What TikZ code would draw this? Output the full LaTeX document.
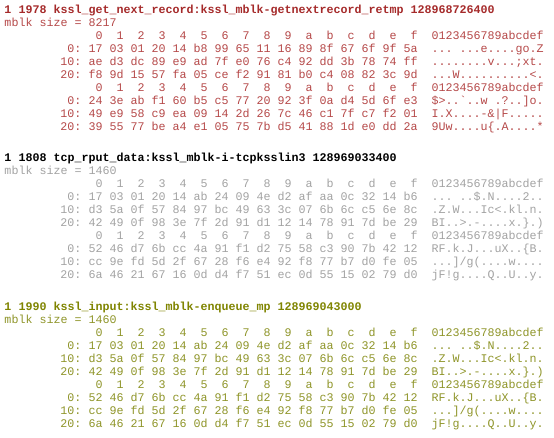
\documentclass[tikz,border=0pt]{standalone}
\usepackage{fontspec}
\setmonofont{Liberation Mono}
\definecolor{redt}{HTML}{A52A2A}
\definecolor{redc}{HTML}{B54848}
\definecolor{grayc}{HTML}{A2A2A2}
\definecolor{olivet}{HTML}{7F8400}
\definecolor{olivec}{HTML}{8E9428}
\tikzset{
  txt/.style={inner sep=0pt, outer sep=0pt, font=\ttfamily\fontsize{11.67}{13}\selectfont},
  ttl/.style={txt, font=\ttfamily\bfseries\fontsize{11.67}{13}\selectfont},
}
% #1 prefix, #2 line index, #3 offset, #4 hex, #5 ascii
\newcommand\hexrow[5]{%
  \node[txt, anchor=base east, text=\bodycol] (#1o) at (81.5pt,{-(\yb+13*#2)*1pt}) {#3};
  \node[txt, anchor=base west, text=\bodycol] (#1h) at (88.5pt,{-(\yb+13*#2)*1pt}) {#4};
  \node[txt, anchor=base west, text=\bodycol] (#1a) at (431.5pt,{-(\yb+13*#2)*1pt}) {#5};
}
\newcommand\hexhead[2]{%
  \node[txt, anchor=base west, text=\bodycol] (#1c) at (95.5pt,{-(\yb+13*#2)*1pt})
    {0\ \ 1\ \ 2\ \ 3\ \ 4\ \ 5\ \ 6\ \ 7\ \ 8\ \ 9\ \ a\ \ b\ \ c\ \ d\ \ e\ \ f};
  \node[txt, anchor=base west, text=\bodycol] (#1a) at (431.5pt,{-(\yb+13*#2)*1pt}) {0123456789abcdef};
}
\newcommand\blocktitle[4]{% prefix, title colour, title, size
  \node[ttl, anchor=base west, text=#2] (#1t) at (4.5pt,{-\yb*1pt}) {#3};
  \node[txt, anchor=base west, text=\bodycol] (#1m) at (4.5pt,{-(\yb+13)*1pt}) {mblk size = #4};
}
\begin{document}
\begin{tikzpicture}
\useasboundingbox (0,0) rectangle (554pt,-438pt);
% ---------- block 1 ----------
\def\yb{13.3}\def\bodycol{redc}
\blocktitle{A}{redt}{1 1978 kssl\_get\_next\_record:kssl\_mblk-getnextrecord\_retmp 128968726400}{8217}
\hexhead{Ah1}{2}
\hexrow{Ar1}{3}{0:}{17 03 01 20 14 b8 99 65 11 16 89 8f 67 6f 9f 5a}{... ...e....go.Z}
\hexrow{Ar2}{4}{10:}{ae d3 dc 89 e9 ad 7f e0 76 c4 92 dd 3b 78 74 ff}{........v...;xt.}
\hexrow{Ar3}{5}{20:}{f8 9d 15 57 fa 05 ce f2 91 81 b0 c4 08 82 3c 9d}{...W..........<.}
\hexhead{Ah2}{6}
\hexrow{Ar4}{7}{0:}{24 3e ab f1 60 b5 c5 77 20 92 3f 0a d4 5d 6f e3}{\$>..`..w .?..]o.}
\hexrow{Ar5}{8}{10:}{49 e9 58 c9 ea 09 14 2d 26 7c 46 c1 7f c7 f2 01}{I.X....-\&|F.....}
\hexrow{Ar6}{9}{20:}{39 55 77 be a4 e1 05 75 7b d5 41 88 1d e0 dd 2a}{9Uw....u\{.A....*}
% ---------- block 2 ----------
\def\yb{162.0}\def\bodycol{grayc}
\blocktitle{B}{black}{1 1808 tcp\_rput\_data:kssl\_mblk-i-tcpksslin3 128969033400}{1460}
\hexhead{Bh1}{2}
\hexrow{Br1}{3}{0:}{17 03 01 20 14 ab 24 09 4e d2 af aa 0c 32 14 b6}{... ..\$.N....2..}
\hexrow{Br2}{4}{10:}{d3 5a 0f 57 84 97 bc 49 63 3c 07 6b 6c c5 6e 8c}{.Z.W...Ic<.kl.n.}
\hexrow{Br3}{5}{20:}{42 49 0f 98 3e 7f 2d 91 d1 12 14 78 91 7d be 29}{BI..>.-....x.\}.)}
\hexhead{Bh2}{6}
\hexrow{Br4}{7}{0:}{52 46 d7 6b cc 4a 91 f1 d2 75 58 c3 90 7b 42 12}{RF.k.J...uX..\{B.}
\hexrow{Br5}{8}{10:}{cc 9e fd 5d 2f 67 28 f6 e4 92 f8 77 b7 d0 fe 05}{...]/g(....w....}
\hexrow{Br6}{9}{20:}{6a 46 21 67 16 0d d4 f7 51 ec 0d 55 15 02 79 d0}{jF!g....Q..U..y.}
% ---------- block 3 ----------
\def\yb{310.6}\def\bodycol{olivec}
\blocktitle{C}{olivet}{1 1990 kssl\_input:kssl\_mblk-enqueue\_mp 128969043000}{1460}
\hexhead{Ch1}{2}
\hexrow{Cr1}{3}{0:}{17 03 01 20 14 ab 24 09 4e d2 af aa 0c 32 14 b6}{... ..\$.N....2..}
\hexrow{Cr2}{4}{10:}{d3 5a 0f 57 84 97 bc 49 63 3c 07 6b 6c c5 6e 8c}{.Z.W...Ic<.kl.n.}
\hexrow{Cr3}{5}{20:}{42 49 0f 98 3e 7f 2d 91 d1 12 14 78 91 7d be 29}{BI..>.-....x.\}.)}
\hexhead{Ch2}{6}
\hexrow{Cr4}{7}{0:}{52 46 d7 6b cc 4a 91 f1 d2 75 58 c3 90 7b 42 12}{RF.k.J...uX..\{B.}
\hexrow{Cr5}{8}{10:}{cc 9e fd 5d 2f 67 28 f6 e4 92 f8 77 b7 d0 fe 05}{...]/g(....w....}
\hexrow{Cr6}{9}{20:}{6a 46 21 67 16 0d d4 f7 51 ec 0d 55 15 02 79 d0}{jF!g....Q..U..y.}
\end{tikzpicture}
\end{document}
